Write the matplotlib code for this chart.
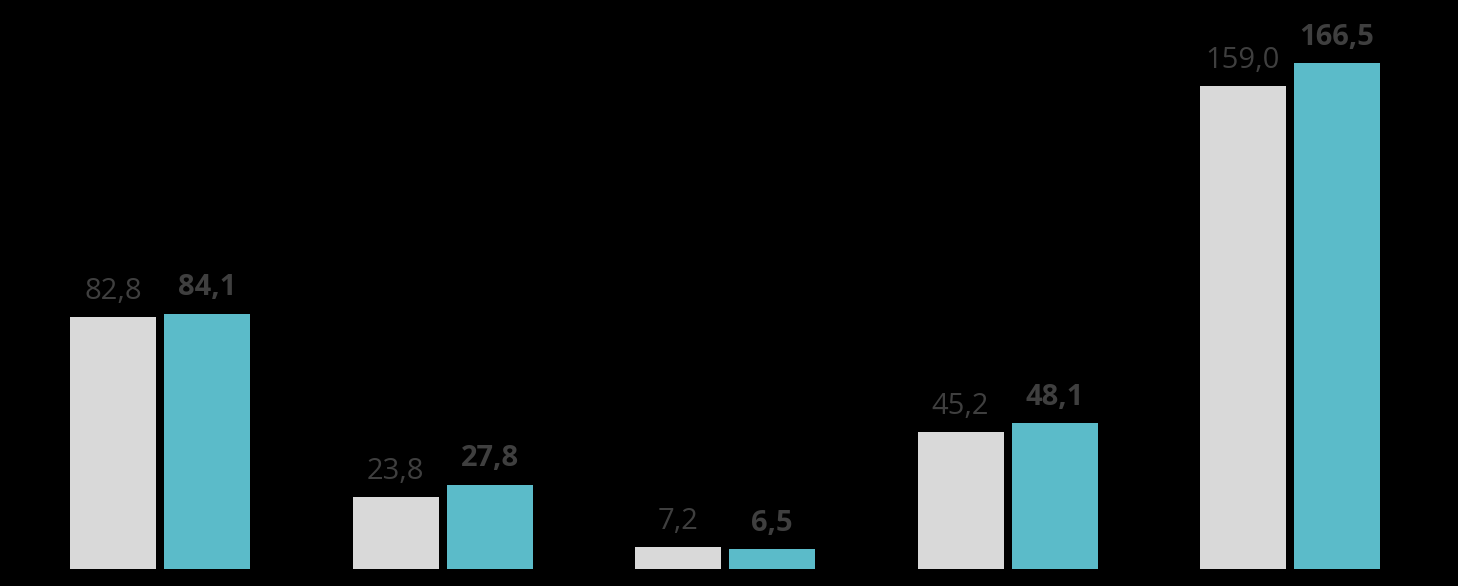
import matplotlib
matplotlib.use("Agg")
import matplotlib.pyplot as plt
import numpy as np

categories = ["A", "B", "C", "D", "E"]
prev_values = [82.8, 23.8, 7.2, 45.2, 159.0]
curr_values = [84.1, 27.8, 6.5, 48.1, 166.5]

plt.rcParams['font.family'] = ['Open Sans', 'DejaVu Sans']

fig = plt.figure(figsize=(14.58, 5.86), dpi=100, facecolor='black')
ax = fig.add_axes([0, 17/586, 1, 569/586])
ax.set_facecolor('black')

x = np.arange(len(categories))
w = 86/282.5
off = 47/282.5
b1 = ax.bar(x - off, prev_values, width=w, color='#D9D9D9')
b2 = ax.bar(x + off, curr_values, width=w, color='#5BBBC9')

def fmt(v):
    return f"{v:.1f}".replace('.', ',')

for rect, v in zip(b1, prev_values):
    ax.annotate(fmt(v), (rect.get_x() + rect.get_width()/2, rect.get_height()),
                xytext=(0, 13), textcoords='offset points', ha='center', va='baseline',
                fontsize=21, color='#3F3F3F')
for rect, v in zip(b2, curr_values):
    ax.annotate(fmt(v), (rect.get_x() + rect.get_width()/2, rect.get_height()),
                xytext=(0, 13), textcoords='offset points', ha='center', va='baseline',
                fontsize=21, color='#3F3F3F', fontweight='bold')

ax.set_xlim(-160/282.5, (1458-160)/282.5)
ax.set_ylim(0, 569/3.038)
ax.axis('off')

fig.savefig('out.png', dpi=100, facecolor='black')
